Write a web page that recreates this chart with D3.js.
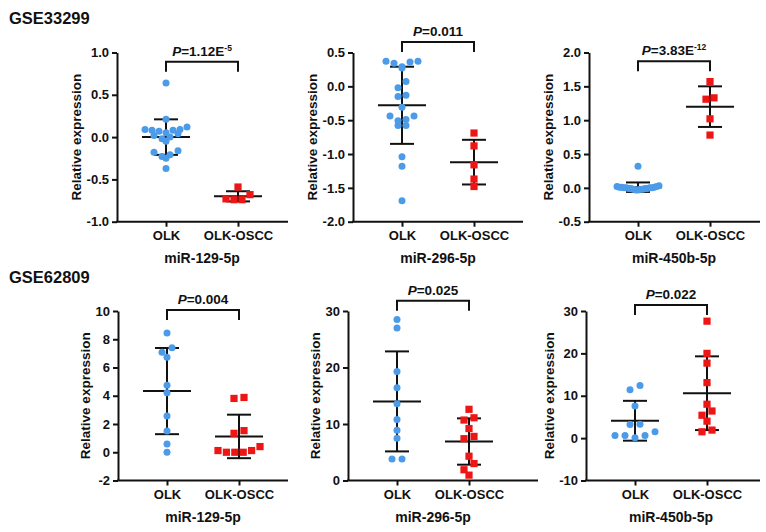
<!DOCTYPE html>
<html><head><meta charset="utf-8">
<script src="https://cdn.jsdelivr.net/npm/d3@7"></script>
<style>
html,body{margin:0;padding:0;background:#fff;}
svg{display:block;font-family:"Liberation Sans",Arial,sans-serif;font-weight:bold;}
</style></head><body>
<svg id="chart" width="766" height="532"></svg>
<script>
// ---------- data ----------
const datasets = ["GSE33299", "GSE62809"];
const genes = ["miR-129-5p", "miR-296-5p", "miR-450b-5p"];
const groups = ["OLK", "OLK-OSCC"];

// GSE33299
const olk_33299_129 = [0.64, 0.21, 0.12, 0.09, 0.09, 0.08, 0.08, 0.07, 0.05, 0.04, 0.02, 0.0, -0.02, -0.05, -0.16, -0.18, -0.21, -0.23, -0.25, -0.37];
const oscc_33299_129 = [-0.59, -0.68, -0.73, -0.74, -0.74];
const olk_33299_296 = [0.37, 0.34, 0.27, 0.29, 0.36, 0.37, 0.07, -0.02, -0.15, -0.13, -0.31, -0.44, -0.51, -0.58, -0.58, -0.49, -0.44, -1.04, -1.18, -1.69];
const oscc_33299_296 = [-0.69, -0.88, -1.16, -1.37, -1.48];
const olk_33299_450b = [0.32, 0.03, 0.02, 0.02, 0.01, 0.01, 0.01, 0.0, 0.0, 0.0, 0.0, -0.01, -0.01, -0.01, -0.01, -0.02, -0.02, -0.02, -0.03, -0.03];
const oscc_33299_450b = [1.57, 1.31, 1.33, 1.02, 0.78];
// GSE62809
const olk_62809_129 = [8.45, 7.39, 7.08, 6.73, 4.75, 4.21, 2.56, 1.51, 0.59, 0.0];
const oscc_62809_129 = [3.81, 3.88, 1.53, 1.34, 0.4, 0.12, 0.12, 0.0, 0.0, 0.0];
const olk_62809_296 = [28.5, 27.0, 19.3, 16.4, 13.6, 10.8, 8.9, 7.5, 3.8, 3.8];
const oscc_62809_296 = [12.6, 11.1, 10.7, 9.2, 7.8, 7.4, 4.3, 3.0, 1.9, 0.95];
const olk_62809_450b = [12.4, 11.4, 7.6, 3.3, 3.2, 1.5, 0.6, 0.6, 0.6, 0.1];
const oscc_62809_450b = [27.6, 20.0, 17.7, 13.1, 8.0, 6.4, 5.4, 4.0, 1.9, 1.5];

// mean and SD per panel (OLK, OLK-OSCC)
const meanOLK  = [0.0, -0.28, 0.01, 4.33, 14.0, 4.1];
const sdOLK    = [0.21, 0.57, 0.07, 3.05, 8.85, 4.7];
const meanOSCC = [-0.70, -1.12, 1.20, 1.12, 6.9, 10.6];
const sdOSCC   = [0.06, 0.33, 0.30, 1.54, 4.1, 8.7];

// significance annotations
const pValues    = ["1.12E", "0.011", "3.83E", "0.004", "0.025", "0.022"];
const pExponents = ["-5", "", "-12", "", "", ""];
const bracketTop = [0.89, 0.655, 1.87, 10.07, 31.8, 31.4];

// y ticks
const yTicks = [
  [-1.0, -0.5, 0.0, 0.5, 1.0],
  [-2.0, -1.5, -1.0, -0.5, 0.0, 0.5],
  [-0.5, 0.0, 0.5, 1.0, 1.5, 2.0],
  [-2, 0, 2, 4, 6, 8, 10],
  [0, 10, 20, 30],
  [-10, 0, 10, 20, 30]
];
const tickDecimals = [1, 1, 1, 0, 0, 0];

const olkData  = [olk_33299_129, olk_33299_296, olk_33299_450b, olk_62809_129, olk_62809_296, olk_62809_450b];
const osccData = [oscc_33299_129, oscc_33299_296, oscc_33299_450b, oscc_62809_129, oscc_62809_296, oscc_62809_450b];

// ---------- layout ----------
const rowTop = [52.5, 311], rowBottom = [221.7, 480.5];
const axisX = [117, 353, 589, 118, 348, 586];
const axisW = [171, 170, 171, 170, 190, 174];
const swarmStep = [8, 8, 8, 10, 10, 10];
const titleY = [24, 283];
const BLUE = "#4b9be9", RED = "#ee1515", INK = "#111";

const svg = d3.select("#chart");

datasets.forEach((d, i) => {
  svg.append("text").attr("x", 9).attr("y", titleY[i])
    .attr("font-size", 16.5).attr("fill", INK).text(d);
});

function swarm(values, y, step, maxSpan) {
  const pts = values.map(v => ({v, py: y(v)})).sort((a, b) => a.py - b.py);
  const bins = [];
  pts.forEach(p => {
    const b = bins[bins.length - 1];
    if (b && p.py - b[0].py <= 6.5) b.push(p); else bins.push([p]);
  });
  bins.forEach(b => {
    const n = b.length;
    const s = n > 1 ? Math.min(step, maxSpan / (n - 1)) : 0;
    const slots = d3.range(n).map(k => (k - (n - 1) / 2) * s)
      .sort((a, c) => Math.abs(a) - Math.abs(c) || a - c);
    b.sort((a, c) => a.v - c.v);
    b.forEach((p, k) => p.dx = slots[k]);
  });
  return pts;
}

for (let k = 0; k < 6; k++) {
  const row = k < 3 ? 0 : 1;
  const top = rowTop[row], bottom = rowBottom[row];
  const ticks = yTicks[k];
  const g = svg.append("g").attr("transform", `translate(${axisX[k]},0)`);
  const y = d3.scaleLinear().domain(d3.extent(ticks)).range([bottom, top]);
  const x = d3.scalePoint().domain(groups).range([49, 121]);
  const fmt = v => d3.format(`.${tickDecimals[k]}f`)(v).replace("\u2212", "-");

  // y axis
  const ya = g.append("g").call(d3.axisLeft(y).tickValues(ticks).tickFormat(fmt)
    .tickSize(5).tickSizeOuter(0).tickPadding(3));
  ya.select(".domain").attr("stroke", INK).attr("stroke-width", 2);
  ya.selectAll(".tick line").attr("stroke", INK).attr("stroke-width", 2);
  ya.selectAll(".tick text").attr("font-size", 13).attr("font-family", null)
    .attr("font-weight", "bold").attr("fill", INK);
  let maxW = 0;
  ya.selectAll(".tick text").each(function () { maxW = Math.max(maxW, this.getComputedTextLength()); });

  // x axis
  const xa = g.append("g").attr("transform", `translate(0,${bottom})`)
    .call(d3.axisBottom(x).tickSize(5).tickSizeOuter(0).tickPadding(4.3));
  xa.select(".domain").remove();
  xa.selectAll(".tick line").attr("stroke", INK).attr("stroke-width", 2);
  xa.selectAll(".tick text").attr("font-size", 13).attr("font-family", null)
    .attr("font-weight", "bold").attr("fill", INK);
  g.append("line").attr("x1", -1).attr("x2", axisW[k]).attr("y1", bottom).attr("y2", bottom)
    .attr("stroke", INK).attr("stroke-width", 2);

  // y title
  const tx = -8 - maxW - 10;
  g.append("text").attr("transform", `translate(${tx},${(top + bottom) / 2}) rotate(-90)`)
    .attr("text-anchor", "middle").attr("dy", "0.35em").attr("font-size", 13.5)
    .attr("fill", INK).text("Relative expression");

  // subtitle
  const mid = (x(groups[0]) + x(groups[1])) / 2;
  g.append("text").attr("x", mid).attr("y", bottom + 41).attr("text-anchor", "middle")
    .attr("font-size", 14).attr("fill", INK).text(genes[k % 3]);

  // error bars
  const stats = [[meanOLK[k], sdOLK[k]], [meanOSCC[k], sdOSCC[k]]];
  stats.forEach(([m, s], gi) => {
    const cx = x(groups[gi]);
    const eb = g.append("g").attr("stroke", INK).attr("stroke-width", 2);
    eb.append("line").attr("x1", cx).attr("x2", cx).attr("y1", y(m + s)).attr("y2", y(m - s));
    eb.append("line").attr("x1", cx - 24).attr("x2", cx + 24).attr("y1", y(m)).attr("y2", y(m));
    [m + s, m - s].forEach(v => eb.append("line").attr("x1", cx - 12).attr("x2", cx + 12)
      .attr("y1", y(v)).attr("y2", y(v)));
  });

  // points
  const c0 = x(groups[0]), c1 = x(groups[1]);
  g.append("g").selectAll("circle").data(swarm(olkData[k], y, swarmStep[k], 42)).join("circle")
    .attr("cx", p => c0 + p.dx).attr("cy", p => p.py).attr("r", 3.5).attr("fill", BLUE);
  g.append("g").selectAll("rect").data(swarm(osccData[k], y, swarmStep[k], 42)).join("rect")
    .attr("x", p => c1 + p.dx - 3.6).attr("y", p => p.py - 3.6)
    .attr("width", 7.2).attr("height", 7.2).attr("fill", RED);

  // bracket
  const by = y(bracketTop[k]);
  g.append("path").attr("d", `M${c0},${by + 10}V${by}H${c1}V${by + 10}`)
    .attr("fill", "none").attr("stroke", INK).attr("stroke-width", 2);
  const pt = g.append("text").attr("x", mid).attr("y", by - 6).attr("text-anchor", "middle")
    .attr("font-size", 13.5).attr("fill", INK);
  pt.append("tspan").attr("font-style", "italic").text("P");
  pt.append("tspan").text("=" + pValues[k]);
  if (pExponents[k]) pt.append("tspan").attr("dy", -5).attr("font-size", 8.5).text(pExponents[k]);
}
</script>
</body></html>
